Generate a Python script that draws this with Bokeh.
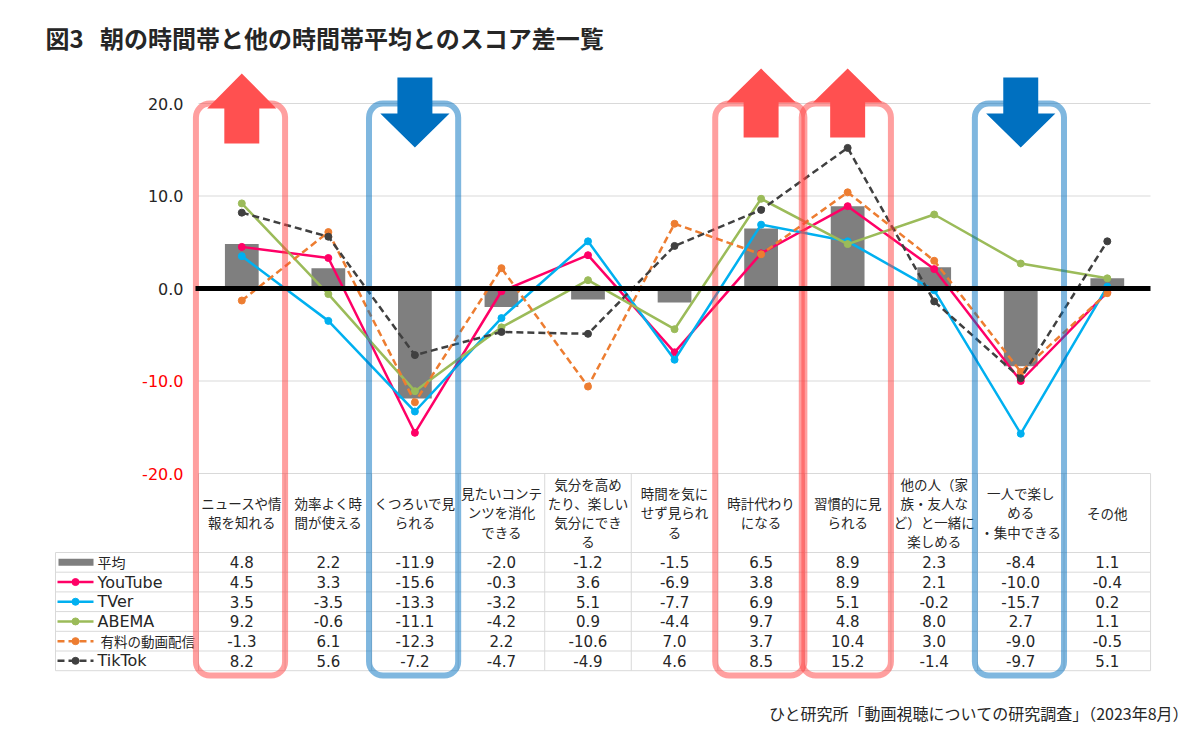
from bokeh.plotting import figure
from bokeh.models import Range1d
from bokeh.core.properties import value
from bokeh.embed import file_html
from bokeh.resources import INLINE

# ---------------- data ----------------
categories = [
    "ニュースや情\n報を知れる",
    "効率よく時\n間が使える",
    "くつろいで見\nられる",
    "見たいコンテ\nンツを消化\nできる",
    "気分を高め\nたり、楽しい\n気分にでき\nる",
    "時間を気に\nせず見られ\nる",
    "時計代わり\nになる",
    "習慣的に見\nられる",
    "他の人（家\n族・友人な\nど）と一緒に\n楽しめる",
    "一人で楽し\nめる\n・集中できる",
    "その他",
]
series_names = ["平均", "YouTube", "TVer", "ABEMA", "有料の動画配信", "TikTok"]
avg = [4.8, 2.2, -11.9, -2.0, -1.2, -1.5, 6.5, 8.9, 2.3, -8.4, 1.1]
youtube = [4.5, 3.3, -15.6, -0.3, 3.6, -6.9, 3.8, 8.9, 2.1, -10.0, -0.4]
tver = [3.5, -3.5, -13.3, -3.2, 5.1, -7.7, 6.9, 5.1, -0.2, -15.7, 0.2]
abema = [9.2, -0.6, -11.1, -4.2, 0.9, -4.4, 9.7, 4.8, 8.0, 2.7, 1.1]
paid = [-1.3, 6.1, -12.3, 2.2, -10.6, 7.0, 3.7, 10.4, 3.0, -9.0, -0.5]
tiktok = [8.2, 5.6, -7.2, -4.7, -4.9, 4.6, 8.5, 15.2, -1.4, -9.7, 5.1]
y_ticks = [20, 10, 0, -10, -20]
up_cats = [0, 6, 7]
down_cats = [2, 9]
title_text = "図3\u00a0\u00a0\u00a0朝の時間帯と他の時間帯平均とのスコア差一覧"
source_text = "ひと研究所「動画視聴についての研究調査」（2023年8月）"

# ---------------- layout ----------------
W, H = 1192, 728
JP = value("Noto Sans CJK JP")
LAT = value("DejaVu Sans")
TXT = "#262626"
c0, step = 241.3, 86.55          # px of first category centre, px per category
y0px, ppu = 288.0, 9.25          # px of value 0, px per unit

p = figure(width=W, height=H, output_backend="svg", toolbar_location=None,
           x_range=Range1d(-c0 / step, (W - c0) / step),
           y_range=Range1d((y0px - H) / ppu, y0px / ppu),
           x_axis_location=None, y_axis_location=None,
           min_border=0, outline_line_color=None)
p.grid.grid_line_color = None
p.extra_x_ranges = {"px": Range1d(0, W)}
p.extra_y_ranges = {"px": Range1d(H, 0)}

n = len(categories)
idx = list(range(n))
plot_left_px, plot_right_px = 198, 1150

# gridlines
grid_vals = [t for t in y_ticks if t != 0]
p.segment(x0=[plot_left_px] * len(grid_vals), x1=[plot_right_px] * len(grid_vals),
          y0=grid_vals, y1=grid_vals, x_range_name="px",
          line_color="#d9d9d9", line_width=1)

# y tick labels
p.text(x=[183] * len(y_ticks), y=y_ticks, x_range_name="px",
       text=[f"{t:.1f}" for t in y_ticks],
       text_color=["#ff0000" if t < 0 else TXT for t in y_ticks],
       text_font=LAT, text_font_size="16px", text_align="right", text_baseline="middle")

# bars
p.vbar(x=idx, top=avg, bottom=0, width=0.39, fill_color="#7f7f7f", line_color=None)

# lines
styles = [
    (youtube, "#ff0066", "solid"),
    (tver, "#00b0f0", "solid"),
    (abema, "#9bbb59", "solid"),
    (paid, "#ed7d31", "7 4"),
    (tiktok, "#404040", "7 4"),
]
for vals, col, dash in styles:
    p.line(x=idx, y=vals, line_color=col, line_width=2.5, line_dash=dash)
    p.scatter(x=idx, y=vals, size=7, fill_color=col, line_color=col)

# table grid
row_top = 552
row_h = 19.7
n_rows = len(series_names)
row_lines = [row_top + row_h * k for k in range(n_rows + 1)]
p.segment(x0=[55] * len(row_lines), x1=[plot_right_px] * len(row_lines),
          y0=row_lines, y1=row_lines, x_range_name="px", y_range_name="px",
          line_color="#d9d9d9", line_width=1)
vx = [k - 0.5 for k in range(n + 1)]
p.segment(x0=vx, x1=vx, y0=[473] * len(vx), y1=[row_lines[-1]] * len(vx),
          y_range_name="px", line_color="#d9d9d9", line_width=1)
p.segment(x0=[55], x1=[55], y0=[row_top], y1=[row_lines[-1]],
          x_range_name="px", y_range_name="px", line_color="#d9d9d9", line_width=1)

# header labels
p.text(x=idx, y=[512] * n, y_range_name="px", text=categories,
       text_font=JP, text_font_size="13.5px", text_color=TXT,
       text_align="center", text_baseline="middle", text_line_height=0.96)

# values
all_series = [avg, youtube, tver, abema, paid, tiktok]
for r, vals in enumerate(all_series):
    ry = row_top + row_h * (r + 0.5)
    p.text(x=idx, y=[ry] * n, y_range_name="px", text=[f"{v:.1f}" for v in vals],
           text_font=LAT, text_font_size="15px", text_color=TXT,
           text_align="center", text_baseline="middle")

# legend column
leg_cols = ["#7f7f7f", "#ff0066", "#00b0f0", "#9bbb59", "#ed7d31", "#404040"]
leg_dash = ["solid", "solid", "solid", "solid", "7 4", "7 4"]
for r, name in enumerate(series_names):
    ry = row_top + row_h * (r + 0.5)
    if r == 0:
        p.quad(left=[58], right=[93], top=[ry - 3.5], bottom=[ry + 3.5],
               x_range_name="px", y_range_name="px", fill_color=leg_cols[r], line_color=None)
    else:
        p.line(x=[57, 93], y=[ry, ry], x_range_name="px", y_range_name="px",
               line_color=leg_cols[r], line_width=2.5, line_dash=leg_dash[r])
        p.scatter(x=[75], y=[ry], x_range_name="px", y_range_name="px", size=7,
                  fill_color=leg_cols[r], line_color=leg_cols[r])
    is_latin = name.isascii()
    p.text(x=[97 if r != 4 else 100], y=[ry], x_range_name="px", y_range_name="px",
           text=[name], text_font=LAT if is_latin else JP,
           text_font_size="16px" if is_latin else ("13.5px" if r == 4 else "14px"),
           text_color=TXT, text_align="left", text_baseline="middle")

# highlight boxes
def boxes(cats, col):
    p.quad(left=[c - 0.53 for c in cats], right=[c + 0.5 for c in cats],
           top=[103] * len(cats), bottom=[675] * len(cats), y_range_name="px",
           fill_color=None, line_color=col, line_alpha=0.5, line_width=6,
           border_radius=14)

boxes(up_cats, "#ff4040")
boxes(down_cats, "#0070c0")

# zero line
p.segment(x0=[195], x1=[plot_right_px], y0=[0], y1=[0], x_range_name="px",
          line_color="black", line_width=5)

# arrows
hw, sw = 0.40, 0.202
up_xs, up_ys = [], []
for c in up_cats:
    t, b, s = (73, 108, 143) if c == 0 else (68, 102, 137)
    up_xs.append([c, c + hw, c + sw, c + sw, c - sw, c - sw, c - hw])
    up_ys.append([t, b, b, s, s, b, b])
p.patches(xs=up_xs, ys=up_ys, y_range_name="px", fill_color="#ff5050", line_color=None)
dn_xs, dn_ys = [], []
for c in down_cats:
    top, b, tip = 77, 113, 147
    dn_xs.append([c - sw, c + sw, c + sw, c + hw, c, c - hw, c - sw])
    dn_ys.append([top, top, b, b, tip, b, b])
p.patches(xs=dn_xs, ys=dn_ys, y_range_name="px", fill_color="#0070c0", line_color=None)

# title & source
p.text(x=[45], y=[37], x_range_name="px", y_range_name="px", text=[title_text],
       text_font=JP, text_font_size="24px", text_font_style="bold", text_color=TXT,
       text_align="left", text_baseline="middle")
p.text(x=[1189], y=[712], x_range_name="px", y_range_name="px", text=[source_text],
       text_font=JP, text_font_size="16px", text_color=TXT,
       text_align="right", text_baseline="middle")

open("out.html", "w").write(file_html(p, INLINE))
